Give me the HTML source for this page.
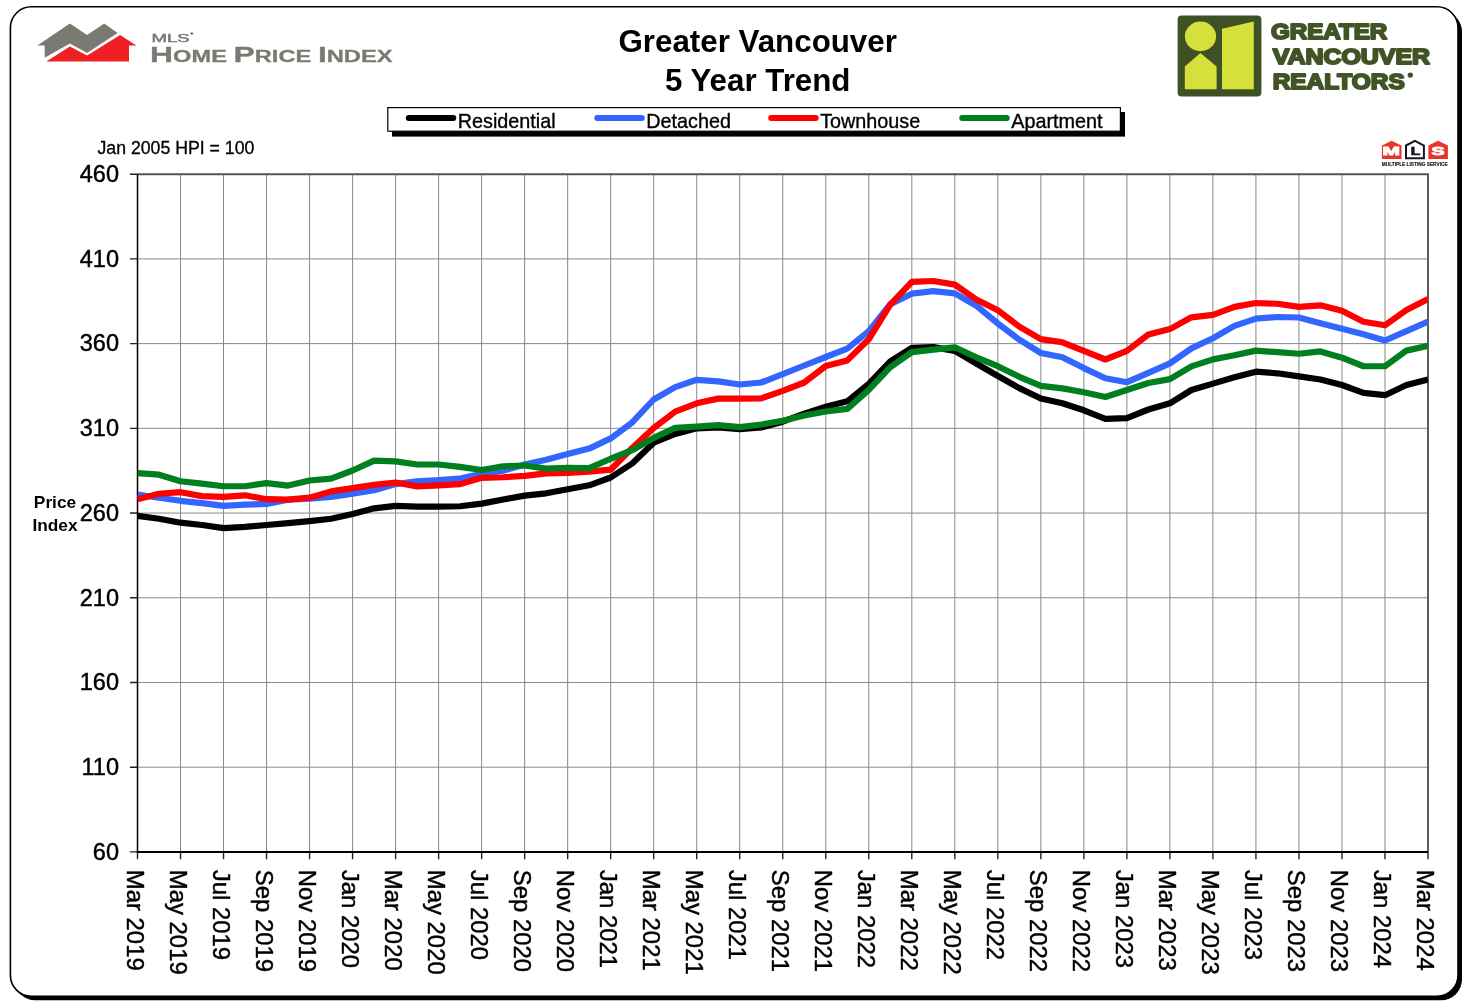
<!DOCTYPE html>
<html><head><meta charset="utf-8"><title>Greater Vancouver 5 Year Trend</title>
<style>
html,body{margin:0;padding:0;background:#fff;width:1472px;height:1004px;overflow:hidden;}
svg{display:block;will-change:transform;font-family:"Liberation Sans",sans-serif;}
</style></head><body>
<svg width="1472" height="1004" viewBox="0 0 1472 1004">
<rect x="14.4" y="10.8" width="1447.6" height="989.5" rx="21" ry="21" fill="#000"/>
<rect x="10.4" y="6.8" width="1447.6" height="989.5" rx="21" ry="21" fill="#fff" stroke="#000" stroke-width="1.6"/>
<path d="M37.3,45.6 L69.9,23.6 L87.1,35 L104.2,23.6 L117.6,32.9 L87.1,52.9 L69.9,43.5 L44.7,57.8 L44.7,45.6 Z" fill="#7b7a72"/>
<path d="M46.3,61.5 L69.9,46.4 L87.1,55.4 L120.1,35 L136.4,45.6 L129,45.6 L129,61.5 Z" fill="#ee2024"/>
<text x="151.5" y="41.6" font-family="Liberation Sans" font-size="11.8" fill="#7b7a72" stroke="#7b7a72" stroke-width="0.5" textLength="38" lengthAdjust="spacingAndGlyphs">MLS</text>
<circle cx="191.8" cy="33.6" r="1.4" fill="#7b7a72"/>
<text x="150" y="61.5" font-family="Liberation Sans" font-weight="bold" fill="#7b7a72" stroke="#7b7a72" stroke-width="0.3" textLength="242.5" lengthAdjust="spacingAndGlyphs"><tspan font-size="22.6">H</tspan><tspan font-size="16.8">OME </tspan><tspan font-size="22.6">P</tspan><tspan font-size="16.8">RICE </tspan><tspan font-size="22.6">I</tspan><tspan font-size="16.8">NDEX</tspan></text>
<text x="757.7" y="51.5" text-anchor="middle" font-family="Liberation Sans" font-size="31.3" font-weight="bold" fill="#000">Greater Vancouver</text>
<text x="757.7" y="90.7" text-anchor="middle" font-family="Liberation Sans" font-size="31.3" font-weight="bold" fill="#000">5 Year Trend</text>
<rect x="1177.6" y="15.4" width="83.8" height="81.1" rx="4" ry="4" fill="#3f5124"/>
<ellipse cx="1200.5" cy="36.4" rx="15.6" ry="14.8" fill="#d5e03b"/>
<path d="M1184.8,66.5 L1200.5,53 L1216.6,66.5 L1216.6,89.3 L1184.8,89.3 Z" fill="#d5e03b"/>
<path d="M1222,28.8 L1253.8,21.6 L1253.8,89.3 L1222,89.3 Z" fill="#d5e03b"/>
<text x="1270.9" y="39.2" font-family="Liberation Sans" font-size="21.2" font-weight="bold" fill="#425426" textLength="116.4" lengthAdjust="spacingAndGlyphs" stroke="#425426" stroke-width="1.9" stroke-linejoin="round">GREATER</text>
<text x="1272.7" y="63.6" font-family="Liberation Sans" font-size="21.2" font-weight="bold" fill="#425426" textLength="157.4" lengthAdjust="spacingAndGlyphs" stroke="#425426" stroke-width="1.9" stroke-linejoin="round">VANCOUVER</text>
<text x="1272.7" y="88.7" font-family="Liberation Sans" font-size="21.2" font-weight="bold" fill="#425426" textLength="132" lengthAdjust="spacingAndGlyphs" stroke="#425426" stroke-width="1.9" stroke-linejoin="round">REALTORS</text>
<circle cx="1410.3" cy="75.1" r="2.7" fill="#425426"/>
<path d="M1381.9,145.5 L1391.7,140.7 L1401.5,145.5 L1401.5,159 L1381.9,159 Z" fill="#e8352b"/>
<path d="M1406.0,145.5 L1414.95,140.8 L1423.9,145.5 L1423.9,158.2 L1406.0,158.2 Z" fill="#fff" stroke="#15152a" stroke-width="2"/>
<path d="M1428.4,145.5 L1438.15,140.7 L1447.9,145.5 L1447.9,159 L1428.4,159 Z" fill="#e8352b"/>
<text x="1382.6" y="155.3" font-family="Liberation Sans" font-size="10.6" font-weight="bold" fill="#fff" stroke="#fff" stroke-width="0.8" textLength="17.4" lengthAdjust="spacingAndGlyphs">M</text>
<text x="1410.8" y="154.8" font-family="Liberation Sans" font-size="11" font-weight="bold" fill="#15152a" stroke="#15152a" stroke-width="0.7" textLength="9.6" lengthAdjust="spacingAndGlyphs">L</text>
<text x="1431.6" y="155.3" font-family="Liberation Sans" font-size="10.6" font-weight="bold" fill="#fff" stroke="#fff" stroke-width="0.8" textLength="13" lengthAdjust="spacingAndGlyphs">S</text>
<text x="1381.8" y="166.4" font-family="Liberation Sans" font-size="5.6" font-weight="bold" fill="#222233" stroke="#222233" stroke-width="0.2" textLength="65.8" lengthAdjust="spacingAndGlyphs">MULTIPLE LISTING SERVICE</text>
<rect x="392" y="112" width="733" height="24.6" fill="#000"/>
<rect x="387.8" y="107.6" width="732.6" height="23.6" fill="#fff" stroke="#000" stroke-width="1.2"/>
<line x1="408.8" y1="118" x2="453.3" y2="118" stroke="#000" stroke-width="6" stroke-linecap="round"/>
<text x="457.8" y="127.8" font-family="Liberation Sans" font-size="19.8" fill="#000" stroke="#000" stroke-width="0.35">Residential</text>
<line x1="597.3" y1="118" x2="641.8" y2="118" stroke="#3366ff" stroke-width="6" stroke-linecap="round"/>
<text x="646.3" y="127.8" font-family="Liberation Sans" font-size="19.8" fill="#000" stroke="#000" stroke-width="0.35">Detached</text>
<line x1="771.2" y1="118" x2="815.7" y2="118" stroke="#ff0000" stroke-width="6" stroke-linecap="round"/>
<text x="820.2" y="127.8" font-family="Liberation Sans" font-size="19.8" fill="#000" stroke="#000" stroke-width="0.35">Townhouse</text>
<line x1="962.2" y1="118" x2="1006.7" y2="118" stroke="#007f1f" stroke-width="6" stroke-linecap="round"/>
<text x="1011.2" y="127.8" font-family="Liberation Sans" font-size="19.8" fill="#000" stroke="#000" stroke-width="0.35">Apartment</text>
<text x="97.5" y="153.8" font-family="Liberation Sans" font-size="17.7" fill="#000" stroke="#000" stroke-width="0.3">Jan 2005 HPI = 100</text>
<text x="55" y="508.4" text-anchor="middle" font-family="Liberation Sans" font-size="17.3" font-weight="bold" fill="#000">Price</text>
<text x="55" y="531.3" text-anchor="middle" font-family="Liberation Sans" font-size="17.3" font-weight="bold" fill="#000">Index</text>
<path d="M137.5,258.91H1428.0M137.5,343.62H1428.0M137.5,428.34H1428.0M137.5,513.05H1428.0M137.5,597.76H1428.0M137.5,682.47H1428.0M137.5,767.19H1428.0M180.52,174.2V851.9M223.53,174.2V851.9M266.55,174.2V851.9M309.57,174.2V851.9M352.58,174.2V851.9M395.60,174.2V851.9M438.62,174.2V851.9M481.63,174.2V851.9M524.65,174.2V851.9M567.67,174.2V851.9M610.68,174.2V851.9M653.70,174.2V851.9M696.72,174.2V851.9M739.73,174.2V851.9M782.75,174.2V851.9M825.77,174.2V851.9M868.78,174.2V851.9M911.80,174.2V851.9M954.82,174.2V851.9M997.83,174.2V851.9M1040.85,174.2V851.9M1083.87,174.2V851.9M1126.88,174.2V851.9M1169.90,174.2V851.9M1212.92,174.2V851.9M1255.93,174.2V851.9M1298.95,174.2V851.9M1341.97,174.2V851.9M1384.98,174.2V851.9" stroke="#888" stroke-width="1.0" fill="none"/>
<path d="M137.5,174.2H1428.0V851.9" stroke="#555" stroke-width="1.9" fill="none"/>
<path d="M130,174.20H137.5M130,258.91H137.5M130,343.62H137.5M130,428.34H137.5M130,513.05H137.5M130,597.76H137.5M130,682.47H137.5M130,767.19H137.5M130,851.90H137.5M137.50,851.9V859.3M180.52,851.9V859.3M223.53,851.9V859.3M266.55,851.9V859.3M309.57,851.9V859.3M352.58,851.9V859.3M395.60,851.9V859.3M438.62,851.9V859.3M481.63,851.9V859.3M524.65,851.9V859.3M567.67,851.9V859.3M610.68,851.9V859.3M653.70,851.9V859.3M696.72,851.9V859.3M739.73,851.9V859.3M782.75,851.9V859.3M825.77,851.9V859.3M868.78,851.9V859.3M911.80,851.9V859.3M954.82,851.9V859.3M997.83,851.9V859.3M1040.85,851.9V859.3M1083.87,851.9V859.3M1126.88,851.9V859.3M1169.90,851.9V859.3M1212.92,851.9V859.3M1255.93,851.9V859.3M1298.95,851.9V859.3M1341.97,851.9V859.3M1384.98,851.9V859.3M1428.00,851.9V859.3" stroke="#222" stroke-width="1.4" fill="none"/>
<path d="M137.5,174.2V851.9" stroke="#000" stroke-width="1.5" fill="none"/>
<path d="M136.75,851.9H1428.0" stroke="#000" stroke-width="2.0" fill="none"/>
<text x="119" y="182.00" text-anchor="end" font-family="Liberation Sans" font-size="23.5" fill="#000" stroke="#000" stroke-width="0.45">460</text>
<text x="119" y="266.71" text-anchor="end" font-family="Liberation Sans" font-size="23.5" fill="#000" stroke="#000" stroke-width="0.45">410</text>
<text x="119" y="351.43" text-anchor="end" font-family="Liberation Sans" font-size="23.5" fill="#000" stroke="#000" stroke-width="0.45">360</text>
<text x="119" y="436.14" text-anchor="end" font-family="Liberation Sans" font-size="23.5" fill="#000" stroke="#000" stroke-width="0.45">310</text>
<text x="119" y="520.85" text-anchor="end" font-family="Liberation Sans" font-size="23.5" fill="#000" stroke="#000" stroke-width="0.45">260</text>
<text x="119" y="605.56" text-anchor="end" font-family="Liberation Sans" font-size="23.5" fill="#000" stroke="#000" stroke-width="0.45">210</text>
<text x="119" y="690.27" text-anchor="end" font-family="Liberation Sans" font-size="23.5" fill="#000" stroke="#000" stroke-width="0.45">160</text>
<text x="119" y="774.99" text-anchor="end" font-family="Liberation Sans" font-size="23.5" fill="#000" stroke="#000" stroke-width="0.45">110</text>
<text x="119" y="859.70" text-anchor="end" font-family="Liberation Sans" font-size="23.5" fill="#000" stroke="#000" stroke-width="0.45">60</text>
<text transform="translate(126.50,869.8) rotate(90)" font-family="Liberation Sans" font-size="23.9" fill="#000" stroke="#000" stroke-width="0.45">Mar 2019</text>
<text transform="translate(169.52,869.8) rotate(90)" font-family="Liberation Sans" font-size="23.9" fill="#000" stroke="#000" stroke-width="0.45">May 2019</text>
<text transform="translate(212.53,869.8) rotate(90)" font-family="Liberation Sans" font-size="23.9" fill="#000" stroke="#000" stroke-width="0.45">Jul 2019</text>
<text transform="translate(255.55,869.8) rotate(90)" font-family="Liberation Sans" font-size="23.9" fill="#000" stroke="#000" stroke-width="0.45">Sep 2019</text>
<text transform="translate(298.57,869.8) rotate(90)" font-family="Liberation Sans" font-size="23.9" fill="#000" stroke="#000" stroke-width="0.45">Nov 2019</text>
<text transform="translate(341.58,869.8) rotate(90)" font-family="Liberation Sans" font-size="23.9" fill="#000" stroke="#000" stroke-width="0.45">Jan 2020</text>
<text transform="translate(384.60,869.8) rotate(90)" font-family="Liberation Sans" font-size="23.9" fill="#000" stroke="#000" stroke-width="0.45">Mar 2020</text>
<text transform="translate(427.62,869.8) rotate(90)" font-family="Liberation Sans" font-size="23.9" fill="#000" stroke="#000" stroke-width="0.45">May 2020</text>
<text transform="translate(470.63,869.8) rotate(90)" font-family="Liberation Sans" font-size="23.9" fill="#000" stroke="#000" stroke-width="0.45">Jul 2020</text>
<text transform="translate(513.65,869.8) rotate(90)" font-family="Liberation Sans" font-size="23.9" fill="#000" stroke="#000" stroke-width="0.45">Sep 2020</text>
<text transform="translate(556.67,869.8) rotate(90)" font-family="Liberation Sans" font-size="23.9" fill="#000" stroke="#000" stroke-width="0.45">Nov 2020</text>
<text transform="translate(599.68,869.8) rotate(90)" font-family="Liberation Sans" font-size="23.9" fill="#000" stroke="#000" stroke-width="0.45">Jan 2021</text>
<text transform="translate(642.70,869.8) rotate(90)" font-family="Liberation Sans" font-size="23.9" fill="#000" stroke="#000" stroke-width="0.45">Mar 2021</text>
<text transform="translate(685.72,869.8) rotate(90)" font-family="Liberation Sans" font-size="23.9" fill="#000" stroke="#000" stroke-width="0.45">May 2021</text>
<text transform="translate(728.73,869.8) rotate(90)" font-family="Liberation Sans" font-size="23.9" fill="#000" stroke="#000" stroke-width="0.45">Jul 2021</text>
<text transform="translate(771.75,869.8) rotate(90)" font-family="Liberation Sans" font-size="23.9" fill="#000" stroke="#000" stroke-width="0.45">Sep 2021</text>
<text transform="translate(814.77,869.8) rotate(90)" font-family="Liberation Sans" font-size="23.9" fill="#000" stroke="#000" stroke-width="0.45">Nov 2021</text>
<text transform="translate(857.78,869.8) rotate(90)" font-family="Liberation Sans" font-size="23.9" fill="#000" stroke="#000" stroke-width="0.45">Jan 2022</text>
<text transform="translate(900.80,869.8) rotate(90)" font-family="Liberation Sans" font-size="23.9" fill="#000" stroke="#000" stroke-width="0.45">Mar 2022</text>
<text transform="translate(943.82,869.8) rotate(90)" font-family="Liberation Sans" font-size="23.9" fill="#000" stroke="#000" stroke-width="0.45">May 2022</text>
<text transform="translate(986.83,869.8) rotate(90)" font-family="Liberation Sans" font-size="23.9" fill="#000" stroke="#000" stroke-width="0.45">Jul 2022</text>
<text transform="translate(1029.85,869.8) rotate(90)" font-family="Liberation Sans" font-size="23.9" fill="#000" stroke="#000" stroke-width="0.45">Sep 2022</text>
<text transform="translate(1072.87,869.8) rotate(90)" font-family="Liberation Sans" font-size="23.9" fill="#000" stroke="#000" stroke-width="0.45">Nov 2022</text>
<text transform="translate(1115.88,869.8) rotate(90)" font-family="Liberation Sans" font-size="23.9" fill="#000" stroke="#000" stroke-width="0.45">Jan 2023</text>
<text transform="translate(1158.90,869.8) rotate(90)" font-family="Liberation Sans" font-size="23.9" fill="#000" stroke="#000" stroke-width="0.45">Mar 2023</text>
<text transform="translate(1201.92,869.8) rotate(90)" font-family="Liberation Sans" font-size="23.9" fill="#000" stroke="#000" stroke-width="0.45">May 2023</text>
<text transform="translate(1244.93,869.8) rotate(90)" font-family="Liberation Sans" font-size="23.9" fill="#000" stroke="#000" stroke-width="0.45">Jul 2023</text>
<text transform="translate(1287.95,869.8) rotate(90)" font-family="Liberation Sans" font-size="23.9" fill="#000" stroke="#000" stroke-width="0.45">Sep 2023</text>
<text transform="translate(1330.97,869.8) rotate(90)" font-family="Liberation Sans" font-size="23.9" fill="#000" stroke="#000" stroke-width="0.45">Nov 2023</text>
<text transform="translate(1373.98,869.8) rotate(90)" font-family="Liberation Sans" font-size="23.9" fill="#000" stroke="#000" stroke-width="0.45">Jan 2024</text>
<text transform="translate(1417.00,869.8) rotate(90)" font-family="Liberation Sans" font-size="23.9" fill="#000" stroke="#000" stroke-width="0.45">Mar 2024</text>
<clipPath id="pc"><rect x="137.5" y="164.2" width="1290.5" height="697.7"/></clipPath>
<g clip-path="url(#pc)">
<polyline points="137.50,515.90 159.01,518.75 180.52,522.70 202.03,525.00 223.53,528.10 245.04,526.90 266.55,525.00 288.06,523.10 309.57,521.10 331.07,518.75 352.58,514.00 374.09,508.30 395.60,505.90 417.11,506.70 438.62,506.70 460.12,506.25 481.63,503.60 503.14,499.50 524.65,495.60 546.16,493.30 567.67,489.20 589.17,485.30 610.68,477.50 632.19,463.50 653.70,442.70 675.21,434.00 696.72,428.30 718.23,427.50 739.73,429.10 761.24,427.40 782.75,421.70 804.26,413.70 825.77,406.80 847.27,401.30 868.78,383.90 890.29,361.40 911.80,347.90 933.31,347.10 954.82,350.90 976.32,363.50 997.83,376.00 1019.34,388.10 1040.85,398.50 1062.36,403.30 1083.87,410.30 1105.38,418.90 1126.88,418.10 1148.39,409.50 1169.90,403.30 1191.41,390.00 1212.92,383.60 1234.42,377.20 1255.93,371.70 1277.44,373.30 1298.95,376.40 1320.46,379.50 1341.97,385.00 1363.47,392.80 1384.98,395.20 1406.49,385.00 1428.00,379.50" fill="none" stroke="#000" stroke-width="6.2" stroke-linejoin="round" stroke-linecap="butt"/>
<polyline points="137.50,494.50 159.01,497.70 180.52,500.80 202.03,503.10 223.53,505.90 245.04,504.70 266.55,503.90 288.06,499.70 309.57,498.75 331.07,496.90 352.58,493.80 374.09,490.30 395.60,484.10 417.11,481.25 438.62,480.20 460.12,478.60 481.63,473.90 503.14,470.80 524.65,464.50 546.16,459.80 567.67,454.00 589.17,448.60 610.68,438.40 632.19,422.40 653.70,399.50 675.21,387.10 696.72,379.80 718.23,381.40 739.73,384.50 761.24,382.50 782.75,374.20 804.26,365.50 825.77,357.00 847.27,348.60 868.78,331.20 890.29,304.10 911.80,293.70 933.31,291.20 954.82,293.40 976.32,305.70 997.83,323.50 1019.34,339.70 1040.85,353.00 1062.36,357.20 1083.87,368.10 1105.38,378.30 1126.88,382.20 1148.39,372.80 1169.90,363.40 1191.41,348.40 1212.92,338.30 1234.42,325.90 1255.93,318.60 1277.44,317.00 1298.95,317.50 1320.46,323.30 1341.97,328.75 1363.47,334.20 1384.98,340.50 1406.49,331.10 1428.00,321.70" fill="none" stroke="#3366ff" stroke-width="6.2" stroke-linejoin="round" stroke-linecap="butt"/>
<polyline points="137.50,499.20 159.01,493.75 180.52,492.20 202.03,496.10 223.53,496.90 245.04,495.30 266.55,499.20 288.06,499.70 309.57,497.70 331.07,491.40 352.58,488.10 374.09,484.80 395.60,482.50 417.11,486.40 438.62,485.30 460.12,484.10 481.63,477.80 503.14,477.25 524.65,475.80 546.16,473.30 567.67,473.00 589.17,471.60 610.68,469.70 632.19,448.00 653.70,428.00 675.21,411.60 696.72,403.30 718.23,398.60 739.73,398.60 761.24,398.40 782.75,390.80 804.26,382.50 825.77,366.00 847.27,360.40 868.78,339.25 890.29,304.70 911.80,281.90 933.31,281.00 954.82,284.60 976.32,299.50 997.83,310.20 1019.34,326.60 1040.85,339.10 1062.36,342.30 1083.87,350.90 1105.38,359.50 1126.88,350.90 1148.39,334.50 1169.90,329.10 1191.41,317.30 1212.92,314.80 1234.42,306.90 1255.93,303.00 1277.44,303.75 1298.95,306.90 1320.46,305.30 1341.97,310.80 1363.47,321.70 1384.98,325.30 1406.49,310.00 1428.00,299.10" fill="none" stroke="#ff0000" stroke-width="6.2" stroke-linejoin="round" stroke-linecap="butt"/>
<polyline points="137.50,473.10 159.01,474.70 180.52,481.25 202.03,483.60 223.53,486.25 245.04,486.25 266.55,483.10 288.06,485.60 309.57,480.50 331.07,478.60 352.58,470.50 374.09,460.60 395.60,461.40 417.11,464.50 438.62,464.50 460.12,466.90 481.63,470.00 503.14,466.30 524.65,465.50 546.16,468.60 567.67,467.80 589.17,468.10 610.68,458.75 632.19,450.20 653.70,437.90 675.21,427.75 696.72,426.70 718.23,425.20 739.73,427.20 761.24,424.50 782.75,420.80 804.26,415.50 825.77,411.50 847.27,408.80 868.78,389.90 890.29,367.20 911.80,352.10 933.31,349.60 954.82,347.30 976.32,357.30 997.83,366.20 1019.34,376.80 1040.85,385.90 1062.36,388.40 1083.87,392.30 1105.38,397.00 1126.88,390.00 1148.39,383.00 1169.90,379.10 1191.41,366.40 1212.92,359.40 1234.42,355.30 1255.93,350.60 1277.44,352.20 1298.95,353.75 1320.46,351.40 1341.97,357.70 1363.47,366.25 1384.98,366.25 1406.49,350.60 1428.00,345.90" fill="none" stroke="#007f1f" stroke-width="6.2" stroke-linejoin="round" stroke-linecap="butt"/>
</g>
</svg>
</body></html>
